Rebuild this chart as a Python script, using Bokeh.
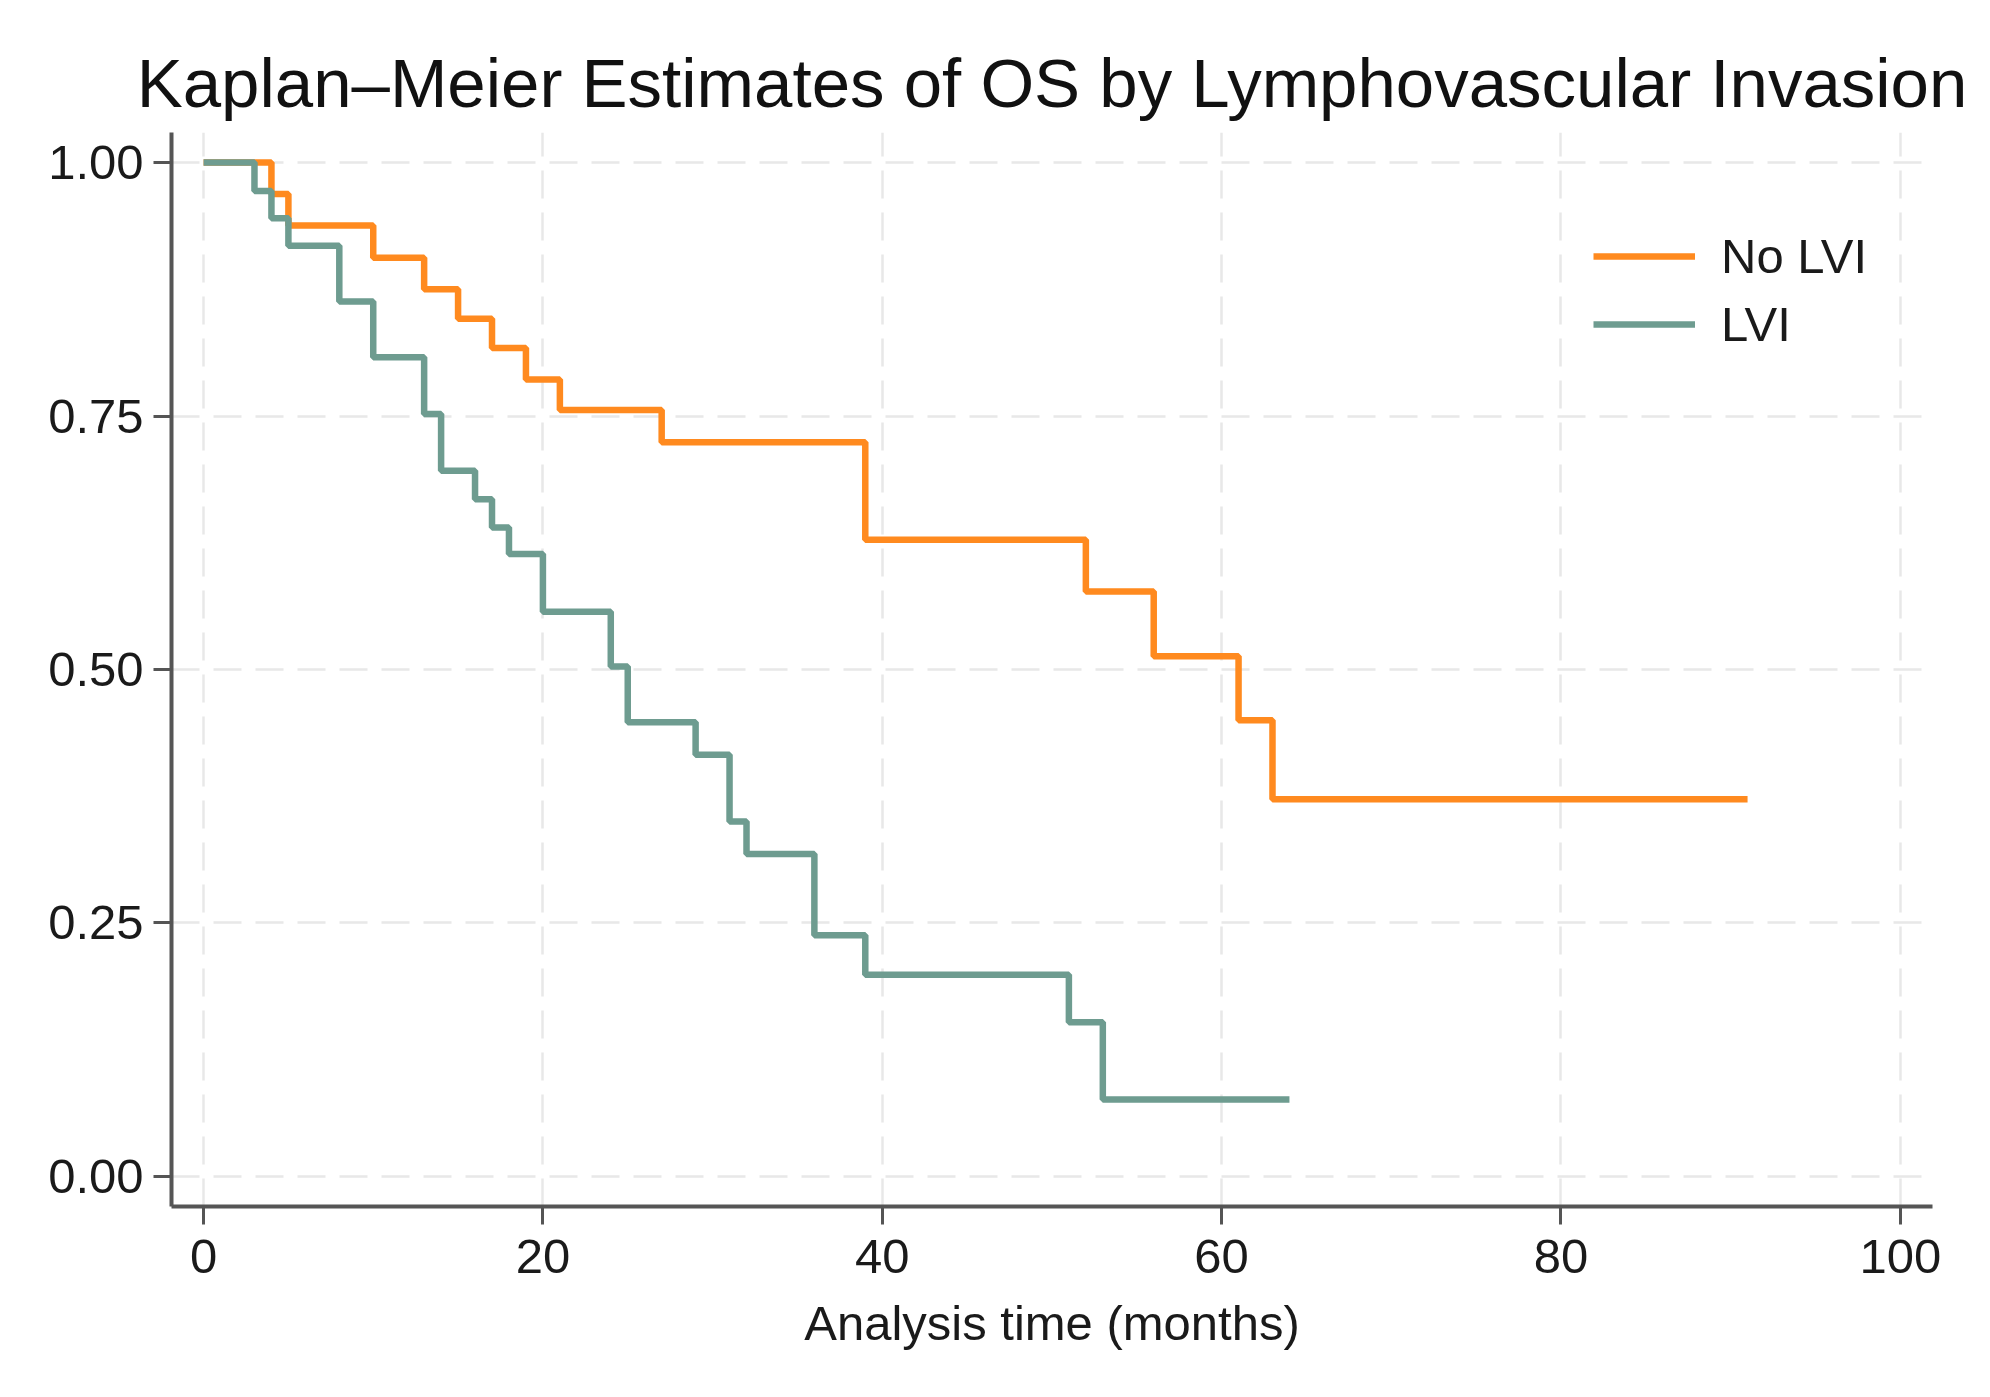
from bokeh.plotting import figure
from bokeh.models import Range1d, FixedTicker, PrintfTickFormatter, Legend, LegendItem
from bokeh.embed import file_html
from bokeh.resources import INLINE

# ---- data ----
times_nolvi = [0, 4, 5, 10, 13, 15, 17, 19, 21, 27, 39, 52, 56, 61, 63, 91]
surv_nolvi = [1.0, 0.969, 0.938, 0.906, 0.875, 0.846, 0.817, 0.786, 0.756, 0.724,
              0.628, 0.577, 0.513, 0.450, 0.372, 0.372]

times_lvi = [0, 3, 4, 5, 8, 10, 13, 14, 16, 17, 18, 20, 24, 25, 29, 31, 32, 36, 39, 51, 53, 64]
surv_lvi = [1.0, 0.972, 0.945, 0.918, 0.863, 0.808, 0.752, 0.696, 0.668, 0.640, 0.614,
            0.557, 0.503, 0.448, 0.416, 0.350, 0.318, 0.238, 0.199, 0.152, 0.076, 0.076]

x_ticks = [0, 20, 40, 60, 80, 100]
y_ticks = [0.0, 0.25, 0.5, 0.75, 1.0]

title_text = "Kaplan\u2013Meier Estimates of OS by Lymphovascular Invasion"
x_label = "Analysis time (months)"
series_names = ["No LVI", "LVI"]
series_colors = ["#FF8A1F", "#6E9C90"]

FONT = "Liberation Sans"
AXIS_COLOR = "#555555"

p = figure(width=1975, height=1385, output_backend="svg", toolbar_location=None,
           x_range=Range1d(-1.89, 101.9), y_range=Range1d(-0.0296, 1.0296),
           min_border_left=171, min_border_right=43, min_border_top=132,
           min_border_bottom=179, title=title_text)
p.background_fill_color = "white"
p.border_fill_color = "white"
p.outline_line_color = None

p.title.text_font = FONT
p.title.text_font_size = "69px"
p.title.text_font_style = "normal"
p.title.text_color = "#111111"
p.title.align = "center"
p.title.standoff = 22

# axes
for ax in (p.xaxis[0], p.yaxis[0]):
    ax.axis_line_color = AXIS_COLOR
    ax.axis_line_width = 4
    ax.major_tick_line_color = AXIS_COLOR
    ax.major_tick_line_width = 3
    ax.major_tick_out = 18
    ax.major_tick_in = 0
    ax.minor_tick_line_color = None
    ax.major_label_text_font = FONT
    ax.major_label_text_font_size = "49px"
    ax.major_label_text_color = "#1a1a1a"

p.xaxis.ticker = FixedTicker(ticks=x_ticks)
p.yaxis.ticker = FixedTicker(ticks=y_ticks)
p.yaxis.formatter = PrintfTickFormatter(format="%.2f")
p.xaxis.major_label_standoff = 15
p.yaxis.major_label_standoff = 10

p.xaxis.axis_label = x_label
p.xaxis.axis_label_text_font = FONT
p.xaxis.axis_label_text_font_size = "49px"
p.xaxis.axis_label_text_font_style = "normal"
p.xaxis.axis_label_text_color = "#1a1a1a"
p.xaxis.axis_label_standoff = 20

# grids
p.xgrid.ticker = FixedTicker(ticks=x_ticks)
p.ygrid.ticker = FixedTicker(ticks=y_ticks)
for g in (p.xgrid[0], p.ygrid[0]):
    g.grid_line_color = "#E8E8E8"
    g.grid_line_width = 2.5
    g.grid_line_dash = "28 14"

# curves
r_no = p.step(times_nolvi, surv_nolvi, mode="after", line_color=series_colors[0], line_width=6.5)
r_lvi = p.step(times_lvi, surv_lvi, mode="after", line_color=series_colors[1], line_width=6.5)

legend = Legend(items=[LegendItem(label=series_names[0], renderers=[r_no]),
                       LegendItem(label=series_names[1], renderers=[r_lvi])],
                location=(1422, 854))
legend.border_line_color = None
legend.background_fill_alpha = 0
legend.padding = 0
legend.margin = 0
legend.glyph_width = 102
legend.glyph_height = 46
legend.label_height = 46
legend.spacing = 12
legend.label_standoff = 26
legend.label_text_font = FONT
legend.label_text_font_size = "49px"
legend.label_text_color = "#1a1a1a"
p.add_layout(legend, "center")

open("out.html", "w").write(file_html(p, INLINE))
